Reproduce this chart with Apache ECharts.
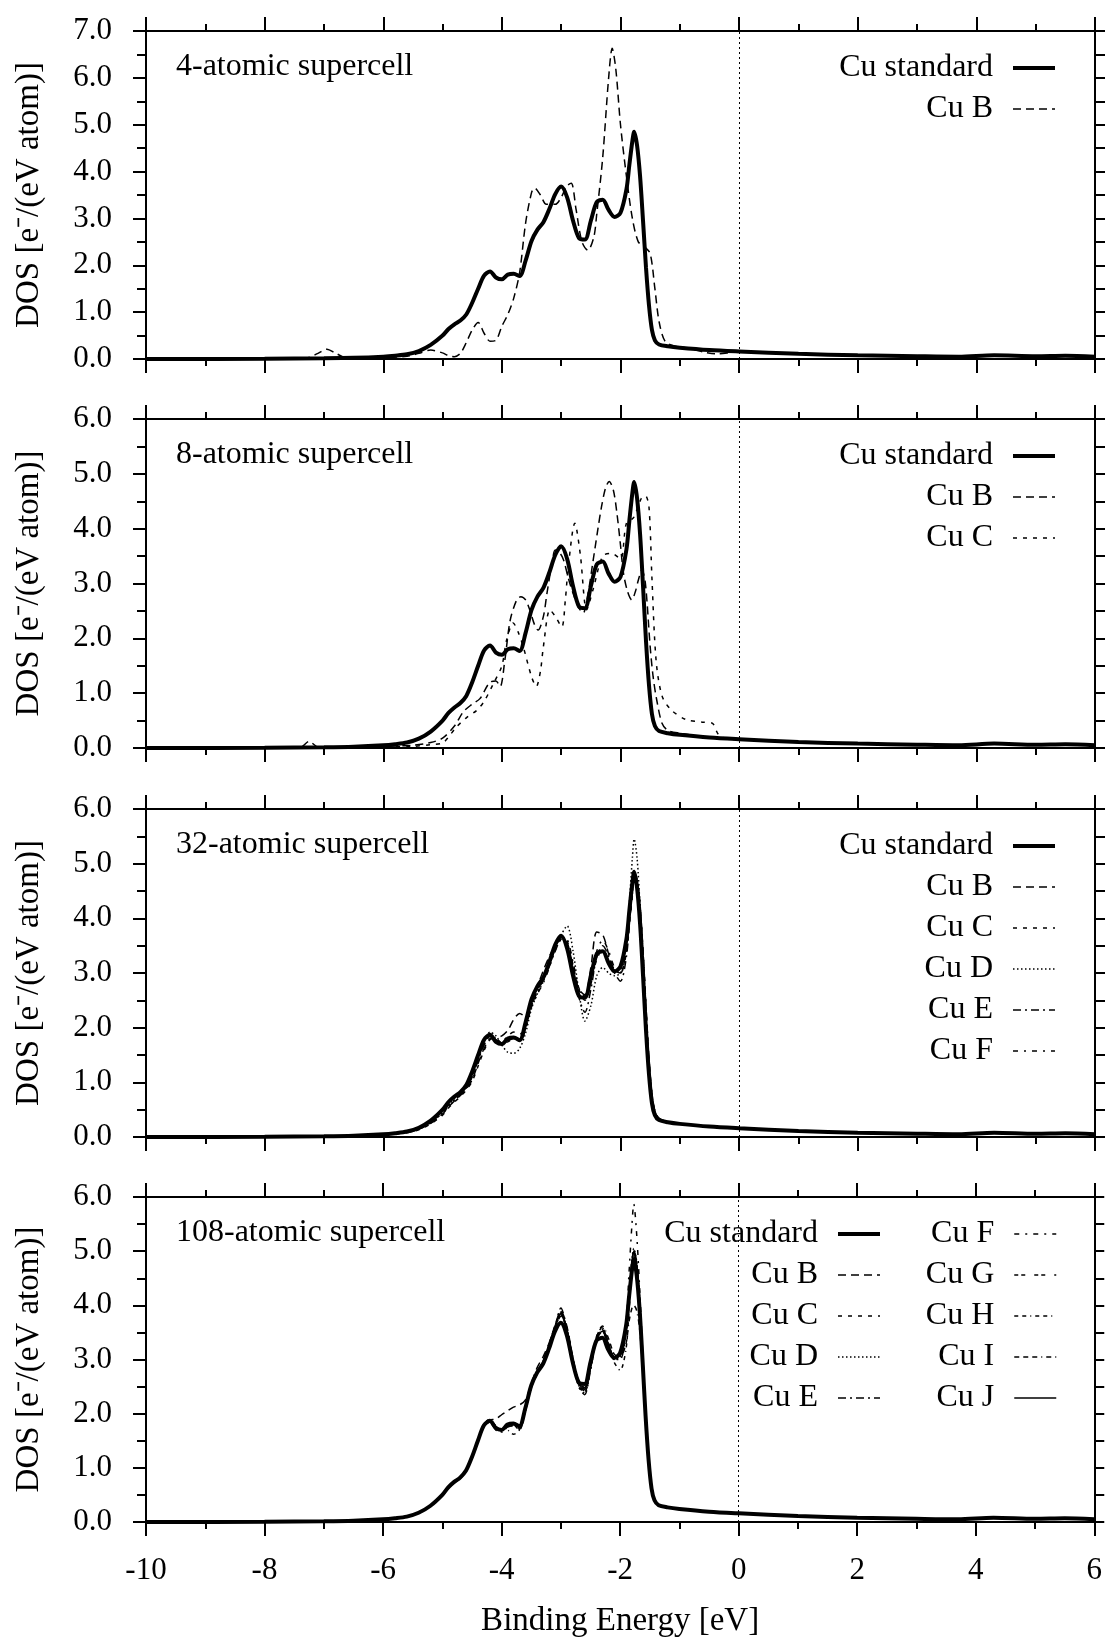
<!DOCTYPE html>
<html><head><meta charset="utf-8">
<script src="https://cdn.jsdelivr.net/npm/echarts@6/dist/echarts.min.js"></script>
<style>html,body{margin:0;padding:0;background:#fff}#c{width:1105px;height:1639px}</style>
</head><body><div id="c"></div>
<script>
// ---------- DATA ----------
const ENERGY = [-10, -8, -7, -6.5, -6, -5.8, -5.6, -5.4, -5.2, -5.0, -4.9, -4.8, -4.7, -4.6, -4.5, -4.4, -4.3, -4.2, -4.1, -4.0, -3.9, -3.8, -3.7, -3.6, -3.5, -3.4, -3.3, -3.2, -3.1, -3.0, -2.9, -2.8, -2.7, -2.6, -2.5, -2.4, -2.3, -2.2, -2.1, -2.0, -1.9, -1.85, -1.8, -1.77, -1.72, -1.67, -1.62, -1.57, -1.52, -1.47, -1.42, -1.35, -1.2, -1.0, -0.5, 0, 1, 2, 3, 3.7, 4.3, 5, 5.5, 6];

const STD = [0, 0.005, 0.015, 0.025, 0.05, 0.07, 0.10, 0.17, 0.30, 0.50, 0.64, 0.74, 0.82, 0.95, 1.20, 1.50, 1.78, 1.87, 1.74, 1.70, 1.80, 1.82, 1.77, 2.10, 2.52, 2.76, 2.92, 3.20, 3.52, 3.68, 3.45, 2.95, 2.58, 2.55, 2.95, 3.35, 3.40, 3.18, 3.03, 3.12, 3.62, 4.15, 4.65, 4.85, 4.55, 3.90, 2.95, 1.95, 1.15, 0.62, 0.40, 0.31, 0.27, 0.24, 0.19, 0.16, 0.11, 0.08, 0.06, 0.05, 0.08, 0.06, 0.07, 0.05];

// 4-atomic supercell
const P1B_X = [-10, -8, -7.3, -7.1, -6.95, -6.8, -6.6, -6.0, -5.6, -5.4, -5.2, -5.0, -4.9, -4.8, -4.7, -4.6, -4.5, -4.4, -4.3, -4.2, -4.1, -4.0, -3.9, -3.8, -3.7, -3.6, -3.5, -3.45, -3.35, -3.25, -3.1, -3.0, -2.9, -2.83, -2.75, -2.65, -2.55, -2.45, -2.4, -2.3, -2.2, -2.14, -2.08, -2.0, -1.9, -1.8, -1.7, -1.6, -1.5, -1.42, -1.35, -1.25, -1.1, -0.9, -0.6, -0.4, 0, 0.5, 1, 2, 3, 3.7, 4.3, 5, 5.5, 6];
const P1B_Y = [0, 0.005, 0.02, 0.12, 0.21, 0.12, 0.02, 0.03, 0.06, 0.12, 0.19, 0.13, 0.07, 0.05, 0.12, 0.35, 0.62, 0.78, 0.55, 0.38, 0.40, 0.70, 0.95, 1.30, 1.85, 2.90, 3.55, 3.65, 3.50, 3.30, 3.30, 3.45, 3.70, 3.75, 3.20, 2.50, 2.32, 2.60, 3.10, 4.30, 6.00, 6.63, 6.20, 5.00, 3.90, 3.00, 2.50, 2.40, 2.25, 1.50, 0.80, 0.38, 0.28, 0.24, 0.15, 0.11, 0.15, 0.13, 0.11, 0.08, 0.06, 0.05, 0.08, 0.06, 0.07, 0.05];

// 8-atomic supercell
const P2B_X = [-10, -8, -7.4, -7.25, -7.1, -6.5, -6.0, -5.5, -5.2, -5.0, -4.8, -4.65, -4.5, -4.37, -4.2, -4.1, -4.03, -3.95, -3.86, -3.75, -3.68, -3.6, -3.53, -3.45, -3.39, -3.3, -3.24, -3.15, -3.1, -3.02, -2.96, -2.88, -2.8, -2.7, -2.63, -2.55, -2.46, -2.38, -2.32, -2.25, -2.19, -2.12, -2.06, -2.0, -1.95, -1.88, -1.81, -1.75, -1.7, -1.64, -1.58, -1.5, -1.45, -1.39, -1.3, -1.2, -1.0, -0.5, 0, 1, 2, 3, 3.7, 4.3, 5, 5.5, 6];
const P2B_Y = [0, 0.005, 0.01, 0.12, 0.02, 0.02, 0.03, 0.05, 0.10, 0.18, 0.40, 0.66, 0.80, 0.90, 1.20, 1.22, 1.12, 1.60, 2.33, 2.70, 2.76, 2.70, 2.52, 2.25, 2.15, 2.40, 2.82, 3.40, 3.61, 3.55, 3.43, 3.10, 2.82, 2.55, 2.46, 2.80, 3.43, 4.00, 4.40, 4.75, 4.86, 4.70, 4.28, 3.70, 3.19, 2.85, 2.70, 2.85, 3.06, 3.25, 3.00, 1.85, 1.30, 0.88, 0.45, 0.32, 0.27, 0.19, 0.16, 0.11, 0.08, 0.06, 0.05, 0.08, 0.06, 0.07, 0.05];
const P2C_X = [-10, -8, -6.0, -5.5, -5.2, -5.0, -4.9, -4.76, -4.6, -4.42, -4.3, -4.14, -4.0, -3.92, -3.81, -3.72, -3.64, -3.5, -3.42, -3.35, -3.3, -3.19, -3.1, -2.99, -2.93, -2.88, -2.77, -2.68, -2.57, -2.46, -2.3, -2.15, -2.0, -1.9, -1.78, -1.65, -1.58, -1.52, -1.47, -1.4, -1.3, -1.15, -0.9, -0.6, -0.45, -0.35, -0.2, 0, 1, 2, 3, 3.7, 4.3, 5, 5.5, 6];
const P2C_Y = [0, 0.005, 0.02, 0.03, 0.06, 0.09, 0.20, 0.39, 0.55, 0.69, 0.85, 1.18, 1.50, 1.97, 2.28, 2.10, 1.85, 1.30, 1.12, 1.40, 1.85, 2.52, 2.40, 2.21, 2.70, 3.31, 4.10, 3.55, 2.52, 2.90, 3.50, 3.55, 3.45, 4.10, 4.20, 4.55, 4.60, 4.40, 3.10, 1.60, 0.95, 0.70, 0.52, 0.47, 0.45, 0.25, 0.17, 0.15, 0.11, 0.08, 0.06, 0.05, 0.08, 0.06, 0.07, 0.05];

// 32-atomic supercell (on ENERGY grid)
const B32 = [0, 0.005, 0.015, 0.025, 0.04, 0.06, 0.08, 0.14, 0.25, 0.42, 0.55, 0.66, 0.76, 0.88, 1.05, 1.35, 1.62, 1.80, 1.82, 1.85, 1.95, 2.15, 2.26, 2.20, 2.45, 2.75, 3.05, 3.30, 3.50, 3.62, 3.55, 3.10, 2.70, 2.60, 3.10, 3.75, 3.70, 3.35, 3.05, 3.00, 3.45, 3.95, 4.45, 4.72, 4.65, 4.20, 3.40, 2.40, 1.45, 0.80, 0.48, 0.34, 0.28, 0.24, 0.19, 0.16, 0.11, 0.08, 0.06, 0.05, 0.08, 0.06, 0.07, 0.05];
const C32 = [0, 0.005, 0.015, 0.025, 0.04, 0.06, 0.08, 0.13, 0.24, 0.40, 0.53, 0.64, 0.74, 0.86, 1.02, 1.30, 1.58, 1.78, 1.80, 1.72, 1.74, 1.80, 1.78, 1.98, 2.40, 2.68, 2.90, 3.15, 3.42, 3.62, 3.58, 3.15, 2.70, 2.50, 2.80, 3.25, 3.42, 3.25, 3.05, 3.02, 3.40, 3.90, 4.40, 4.70, 4.68, 4.25, 3.40, 2.35, 1.40, 0.78, 0.47, 0.34, 0.28, 0.24, 0.19, 0.16, 0.11, 0.08, 0.06, 0.05, 0.08, 0.06, 0.07, 0.05];
const D32 = [0, 0.005, 0.015, 0.025, 0.04, 0.06, 0.09, 0.15, 0.27, 0.46, 0.60, 0.70, 0.78, 0.90, 1.12, 1.45, 1.75, 1.92, 1.85, 1.68, 1.55, 1.53, 1.62, 1.90, 2.35, 2.62, 2.85, 3.15, 3.48, 3.70, 3.86, 3.40, 2.65, 2.12, 2.40, 2.95, 3.10, 3.00, 2.95, 3.00, 3.55, 4.30, 5.10, 5.45, 5.10, 4.20, 3.10, 2.05, 1.25, 0.70, 0.45, 0.33, 0.28, 0.24, 0.19, 0.16, 0.11, 0.08, 0.06, 0.05, 0.08, 0.06, 0.07, 0.05];
const E32 = [0, 0.005, 0.015, 0.025, 0.045, 0.065, 0.09, 0.15, 0.27, 0.45, 0.58, 0.68, 0.77, 0.90, 1.10, 1.40, 1.68, 1.84, 1.78, 1.72, 1.76, 1.80, 1.76, 2.00, 2.40, 2.66, 2.88, 3.12, 3.40, 3.60, 3.55, 3.10, 2.55, 2.28, 2.70, 3.30, 3.50, 3.30, 3.00, 2.85, 3.30, 3.90, 4.50, 4.80, 4.70, 4.20, 3.30, 2.25, 1.35, 0.75, 0.46, 0.33, 0.28, 0.24, 0.19, 0.16, 0.11, 0.08, 0.06, 0.05, 0.08, 0.06, 0.07, 0.05];
const F32 = [0, 0.005, 0.015, 0.025, 0.045, 0.06, 0.085, 0.14, 0.26, 0.44, 0.56, 0.67, 0.78, 0.92, 1.12, 1.42, 1.70, 1.83, 1.76, 1.75, 1.85, 1.92, 1.88, 2.05, 2.38, 2.62, 2.82, 3.10, 3.45, 3.66, 3.62, 3.20, 2.72, 2.58, 2.92, 3.40, 3.60, 3.40, 3.10, 3.00, 3.38, 3.95, 4.55, 4.78, 4.72, 4.25, 3.35, 2.30, 1.38, 0.76, 0.46, 0.33, 0.28, 0.24, 0.19, 0.16, 0.11, 0.08, 0.06, 0.05, 0.08, 0.06, 0.07, 0.05];

// 108-atomic supercell (on ENERGY grid)
const B108 = [0, 0.005, 0.015, 0.025, 0.045, 0.065, 0.095, 0.16, 0.29, 0.48, 0.62, 0.72, 0.80, 0.94, 1.18, 1.48, 1.76, 1.88, 1.90, 1.98, 2.05, 2.12, 2.16, 2.25, 2.55, 2.85, 3.05, 3.30, 3.62, 3.90, 3.62, 3.05, 2.60, 2.48, 2.90, 3.40, 3.55, 3.30, 3.05, 3.05, 3.55, 4.20, 4.75, 4.98, 4.75, 4.05, 3.05, 2.00, 1.18, 0.64, 0.41, 0.31, 0.27, 0.24, 0.19, 0.16, 0.11, 0.08, 0.06, 0.05, 0.08, 0.06, 0.07, 0.05];
const C108 = [0, 0.005, 0.015, 0.025, 0.05, 0.07, 0.10, 0.17, 0.30, 0.50, 0.63, 0.72, 0.80, 0.94, 1.18, 1.48, 1.75, 1.86, 1.76, 1.72, 1.78, 1.80, 1.75, 2.08, 2.50, 2.78, 2.98, 3.28, 3.62, 3.88, 3.55, 3.00, 2.55, 2.42, 2.85, 3.38, 3.50, 3.28, 3.05, 3.08, 3.55, 4.20, 4.80, 5.00, 4.75, 4.05, 3.05, 2.00, 1.18, 0.64, 0.41, 0.31, 0.27, 0.24, 0.19, 0.16, 0.11, 0.08, 0.06, 0.05, 0.08, 0.06, 0.07, 0.05];
const D108 = [0, 0.005, 0.015, 0.025, 0.05, 0.07, 0.10, 0.17, 0.31, 0.51, 0.65, 0.75, 0.83, 0.96, 1.22, 1.52, 1.80, 1.85, 1.72, 1.68, 1.76, 1.78, 1.72, 2.05, 2.48, 2.74, 2.95, 3.25, 3.58, 3.86, 3.52, 2.98, 2.52, 2.38, 2.82, 3.35, 3.55, 3.30, 3.00, 3.05, 3.58, 4.25, 4.85, 5.05, 4.80, 4.10, 3.10, 2.05, 1.20, 0.65, 0.41, 0.31, 0.27, 0.24, 0.19, 0.16, 0.11, 0.08, 0.06, 0.05, 0.08, 0.06, 0.07, 0.05];
const E108 = [0, 0.005, 0.015, 0.025, 0.05, 0.07, 0.10, 0.17, 0.30, 0.49, 0.63, 0.73, 0.81, 0.95, 1.20, 1.50, 1.78, 1.84, 1.70, 1.66, 1.75, 1.78, 1.70, 2.06, 2.50, 2.76, 2.96, 3.26, 3.60, 3.95, 3.58, 3.00, 2.50, 2.35, 2.80, 3.35, 3.52, 3.30, 3.02, 3.00, 3.50, 4.15, 4.80, 5.02, 4.78, 4.08, 3.08, 2.02, 1.19, 0.64, 0.41, 0.31, 0.27, 0.24, 0.19, 0.16, 0.11, 0.08, 0.06, 0.05, 0.08, 0.06, 0.07, 0.05];
const F108 = [0, 0.005, 0.015, 0.025, 0.05, 0.07, 0.10, 0.17, 0.30, 0.50, 0.64, 0.74, 0.82, 0.96, 1.22, 1.52, 1.80, 1.90, 1.78, 1.72, 1.80, 1.82, 1.76, 2.08, 2.50, 2.75, 2.95, 3.25, 3.58, 3.82, 3.55, 3.02, 2.55, 2.45, 2.88, 3.42, 3.58, 3.32, 3.05, 3.10, 3.70, 4.60, 5.50, 5.87, 5.30, 4.30, 3.15, 2.05, 1.20, 0.65, 0.41, 0.31, 0.27, 0.24, 0.19, 0.16, 0.11, 0.08, 0.06, 0.05, 0.08, 0.06, 0.07, 0.05];
const G108 = [0, 0.005, 0.015, 0.025, 0.05, 0.07, 0.10, 0.17, 0.30, 0.51, 0.65, 0.74, 0.82, 0.95, 1.20, 1.50, 1.77, 1.86, 1.75, 1.70, 1.78, 1.80, 1.74, 2.06, 2.48, 2.74, 2.94, 3.24, 3.58, 3.84, 3.56, 3.00, 2.55, 2.42, 2.86, 3.40, 3.56, 3.30, 3.02, 3.04, 3.52, 4.18, 4.78, 4.98, 4.74, 4.05, 3.05, 2.02, 1.18, 0.64, 0.41, 0.31, 0.27, 0.24, 0.19, 0.16, 0.11, 0.08, 0.06, 0.05, 0.08, 0.06, 0.07, 0.05];
const H108 = [0, 0.005, 0.015, 0.025, 0.05, 0.07, 0.10, 0.17, 0.30, 0.50, 0.64, 0.73, 0.81, 0.94, 1.19, 1.49, 1.76, 1.86, 1.74, 1.72, 1.70, 1.62, 1.70, 2.05, 2.48, 2.74, 2.95, 3.25, 3.60, 3.85, 3.58, 3.02, 2.52, 2.40, 2.84, 3.40, 3.60, 3.30, 2.95, 2.80, 3.20, 3.90, 4.60, 4.90, 4.72, 4.05, 3.05, 2.00, 1.18, 0.64, 0.41, 0.31, 0.27, 0.24, 0.19, 0.16, 0.11, 0.08, 0.06, 0.05, 0.08, 0.06, 0.07, 0.05];
const I108 = [0, 0.005, 0.015, 0.025, 0.05, 0.07, 0.10, 0.17, 0.30, 0.50, 0.64, 0.74, 0.82, 0.95, 1.20, 1.50, 1.78, 1.86, 1.74, 1.70, 1.78, 1.80, 1.75, 2.06, 2.48, 2.74, 2.95, 3.24, 3.56, 3.80, 3.55, 3.00, 2.55, 2.45, 2.88, 3.40, 3.62, 3.40, 3.10, 3.05, 3.30, 3.70, 3.95, 4.00, 3.90, 3.55, 2.85, 1.95, 1.15, 0.63, 0.41, 0.31, 0.27, 0.24, 0.19, 0.16, 0.11, 0.08, 0.06, 0.05, 0.08, 0.06, 0.07, 0.05];
const J108 = [0, 0.005, 0.015, 0.025, 0.05, 0.07, 0.10, 0.17, 0.30, 0.50, 0.64, 0.74, 0.82, 0.95, 1.20, 1.50, 1.78, 1.87, 1.74, 1.70, 1.80, 1.82, 1.77, 2.10, 2.52, 2.78, 2.96, 3.26, 3.60, 3.86, 3.56, 3.00, 2.56, 2.48, 2.90, 3.38, 3.52, 3.28, 3.04, 3.10, 3.60, 4.20, 4.80, 5.00, 4.74, 4.05, 3.05, 2.00, 1.18, 0.64, 0.41, 0.31, 0.27, 0.24, 0.19, 0.16, 0.11, 0.08, 0.06, 0.05, 0.08, 0.06, 0.07, 0.05];

const PANEL_LABELS = ['4-atomic supercell', '8-atomic supercell', '32-atomic supercell', '108-atomic supercell'];
const Y_MAX = [7, 6, 6, 6];
const X_NAME = 'Binding Energy [eV]';
const Y_NAME = 'DOS [e\u207B/(eV atom)]';

// ---------- STYLE ----------
const FONT = '"Liberation Serif", "Times New Roman", serif';
const STYLES = {
  'Cu standard': {width: 4, type: 'solid'},
  'Cu B': {width: 1.5, type: [8, 5]},
  'Cu C': {width: 1.5, type: [4, 6]},
  'Cu D': {width: 1.5, type: [1.5, 2.5]},
  'Cu E': {width: 1.5, type: [8, 4, 2, 4]},
  'Cu F': {width: 1.5, type: [5, 6, 2, 6]},
  'Cu G': {width: 1.5, type: [4, 3, 4, 9]},
  'Cu H': {width: 1.5, type: [4, 4, 4, 4, 1, 4]},
  'Cu I': {width: 1.5, type: [5, 4, 5, 4, 5, 4, 1, 4]},
  'Cu J': {width: 1.5, type: 'solid'}
};
const LAYOUT = [
  {top: 31, height: 328},
  {top: 419, height: 329},
  {top: 809, height: 328},
  {top: 1197, height: 330}
];

const panelSeries = [
  [['Cu B', P1B_X, P1B_Y]],
  [['Cu B', P2B_X, P2B_Y], ['Cu C', P2C_X, P2C_Y]],
  [['Cu B', ENERGY, B32], ['Cu C', ENERGY, C32], ['Cu D', ENERGY, D32], ['Cu E', ENERGY, E32], ['Cu F', ENERGY, F32]],
  [['Cu B', ENERGY, B108], ['Cu C', ENERGY, C108], ['Cu D', ENERGY, D108], ['Cu E', ENERGY, E108], ['Cu F', ENERGY, F108],
   ['Cu G', ENERGY, G108], ['Cu H', ENERGY, H108], ['Cu I', ENERGY, I108], ['Cu J', ENERGY, J108]]
];

const black = '#000';
const txt = (size, extra) => Object.assign({fontFamily: FONT, fontSize: size, color: black, fontWeight: 'normal'}, extra || {});

const grid = [], xAxis = [], yAxis = [], series = [], title = [], legend = [];

LAYOUT.forEach((L, i) => {
  grid.push({left: 146, width: 949, top: L.top, height: L.height});
  const axLine = {show: true, onZero: false, lineStyle: {color: black, width: 2}};
  const tickLS = {color: black, width: 2};
  xAxis.push({
    gridIndex: i, type: 'value', min: -10, max: 6, interval: 2, position: 'bottom',
    axisLine: axLine, axisTick: {show: true, length: 14, lineStyle: tickLS},
    minorTick: {show: true, splitNumber: 2, length: 7, lineStyle: tickLS},
    splitLine: {show: false}, minorSplitLine: {show: false},
    axisLabel: Object.assign({show: i === 3, margin: 33}, txt(31)),
    name: i === 3 ? X_NAME : '', nameLocation: 'middle', nameGap: 83, nameTextStyle: txt(33)
  });
  xAxis.push({
    gridIndex: i, type: 'value', min: -10, max: 6, interval: 2, position: 'top',
    axisLine: axLine, axisTick: {show: true, length: 14, lineStyle: tickLS},
    minorTick: {show: true, splitNumber: 2, length: 7, lineStyle: tickLS},
    splitLine: {show: false}, axisLabel: {show: false}
  });
  yAxis.push({
    gridIndex: i, type: 'value', min: 0, max: Y_MAX[i], interval: 1, position: 'left',
    axisLine: axLine, axisTick: {show: true, length: 13, lineStyle: tickLS},
    minorTick: {show: true, splitNumber: 2, length: 9, lineStyle: tickLS},
    splitLine: {show: false},
    axisLabel: Object.assign({margin: 34, formatter: v => v.toFixed(1)}, txt(31)),
    name: Y_NAME, nameLocation: 'middle', nameGap: 100, nameTextStyle: txt(33)
  });
  yAxis.push({
    gridIndex: i, type: 'value', min: 0, max: Y_MAX[i], interval: 0.5, position: 'right',
    axisLine: axLine, axisTick: {show: true, length: 10, lineStyle: tickLS},
    splitLine: {show: false}, axisLabel: {show: false}
  });

  const names = ['Cu standard'];
  panelSeries[i].forEach(([name, xs, ys]) => {
    names.push(name);
    const st = STYLES[name];
    series.push({
      name, type: 'line', xAxisIndex: 2 * i, yAxisIndex: 2 * i,
      data: xs.map((x, k) => [x, ys[k]]), symbol: 'none', smooth: 0.3, silent: true,
      itemStyle: {color: black},
      lineStyle: {color: black, width: st.width, type: st.type}, z: 2
    });
  });
  series.push({
    name: 'Cu standard', type: 'line', xAxisIndex: 2 * i, yAxisIndex: 2 * i,
    data: ENERGY.map((x, k) => [x, STD[k]]), symbol: 'none', smooth: 0.3, silent: true,
    itemStyle: {color: black},
    lineStyle: {color: black, width: 4, type: 'solid'}, z: 3,
    markLine: {silent: true, symbol: ['none', 'none'], label: {show: false},
      lineStyle: {color: black, width: 1, type: [2, 3]}, data: [{xAxis: 0}]}
  });

  title.push({text: PANEL_LABELS[i], left: 176, top: L.top + 20, padding: 0,
    textStyle: txt(32, {lineHeight: 32})});

  const legBase = {
    orient: 'vertical', top: L.top + 19, align: 'right', itemWidth: 42, itemHeight: 14,
    itemGap: 5, padding: 0, selectedMode: false,
    itemStyle: {opacity: 0},
    lineStyle: {width: 'inherit', type: 'inherit', color: 'inherit'},
    textStyle: txt(32, {lineHeight: 36, padding: [0, 15, 0, 0]})
  };
  if (i < 3) {
    legend.push(Object.assign({}, legBase, {right: 48, data: names}));
  } else {
    legend.push(Object.assign({}, legBase, {right: 223, data: names.slice(0, 5)}));
    legend.push(Object.assign({}, legBase, {right: 48, data: names.slice(5)}));
  }
});

const chart = echarts.init(document.getElementById('c'), null, {renderer: 'canvas'});
chart.setOption({
  animation: false,
  backgroundColor: '#fff',
  textStyle: {fontFamily: FONT},
  title, legend, grid, xAxis, yAxis, series
});
</script>
</body></html>
